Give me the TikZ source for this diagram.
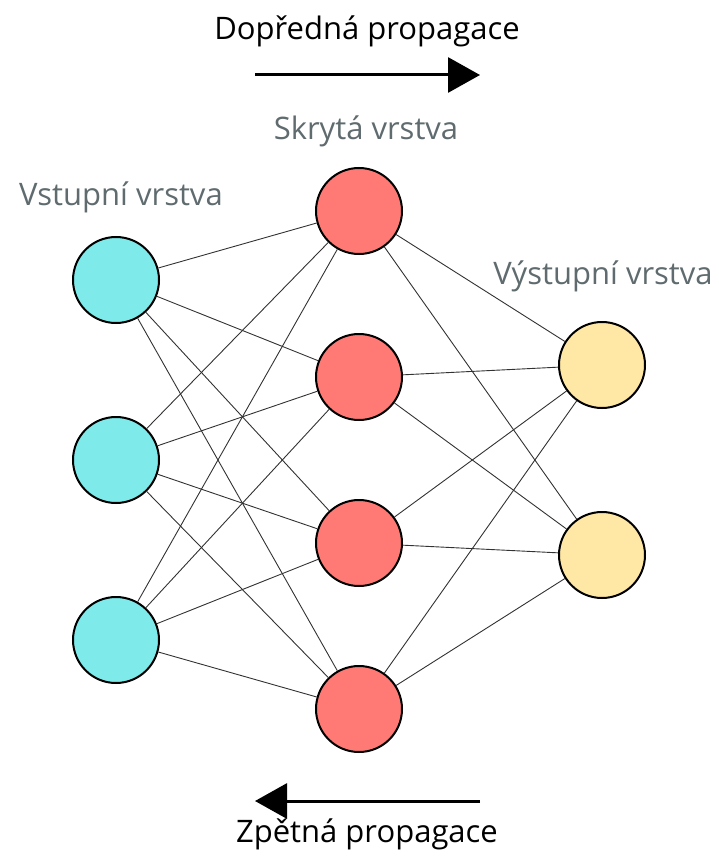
\documentclass[tikz,border=0pt]{standalone}
\usepackage{fontspec}
\setmainfont{Open Sans}
\usetikzlibrary{positioning, arrows.meta}

\definecolor{inpcol}{RGB}{126,234,234}
\definecolor{hidcol}{RGB}{255,122,117}
\definecolor{outcol}{RGB}{255,232,165}
\definecolor{layergray}{RGB}{95,107,110}
\definecolor{wirecol}{RGB}{50,50,50}

\tikzset{
  neuron/.style={circle, draw=black, line width=2pt, minimum size=86pt, inner sep=0pt},
  inp/.style={neuron, fill=inpcol},
  hid/.style={neuron, fill=hidcol},
  outp/.style={neuron, fill=outcol},
  wire/.style={draw=wirecol, line width=0.9pt},
  lbl/.style={font=\fontsize{31}{36}\selectfont, anchor=base, inner sep=0pt},
  layername/.style={lbl, text=layergray},
  propag/.style={line width=3pt, -{Triangle[length=32pt,width=35pt]}}
}

\begin{document}
\begin{tikzpicture}[x=1pt,y=1pt,node distance=166pt,on grid]
  \useasboundingbox (0,0) rectangle (719,-861);

  % vrstvy
  \node[hid] (h1) at (359,-211) {};
  \node[hid] (h2) [below=of h1] {};
  \node[hid] (h3) [below=of h2] {};
  \node[hid] (h4) [below=of h3] {};

  \node[inp] (i1) at (116,-280) {};
  \node[inp] (i2) [below=180pt of i1] {};
  \node[inp] (i3) [below=180pt of i2] {};

  \node[outp] (o1) at (602,-365) {};
  \node[outp] (o2) [below=190pt of o1] {};

  % spoje
  \foreach \i in {1,2,3}
    \foreach \h in {1,...,4}
      \draw[wire] (i\i) -- (h\h);
  \foreach \h in {1,...,4}
    \foreach \o in {1,2}
      \draw[wire] (h\h) -- (o\o);

  % popisky
  \node[layername] (tin)  at (121,-205) {Vstupní vrstva};
  \node[layername] (thid) at (366,-140) {Skrytá vrstva};
  \node[layername] (tout) at (603,-284) {Výstupní vrstva};

  \node[lbl] (tfwd) at (367,-40) {Dopředná propagace};
  \node[lbl] (tbwd) at (367,-842) {Zpětná propagace};

  \coordinate (f0) at (255,-75);
  \coordinate (f1) at (480,-75);
  \coordinate (b0) at (480,-801);
  \coordinate (b1) at (255,-801);
  \draw[propag] (f0) -- (f1);
  \draw[propag] (b0) -- (b1);
\end{tikzpicture}
\end{document}
